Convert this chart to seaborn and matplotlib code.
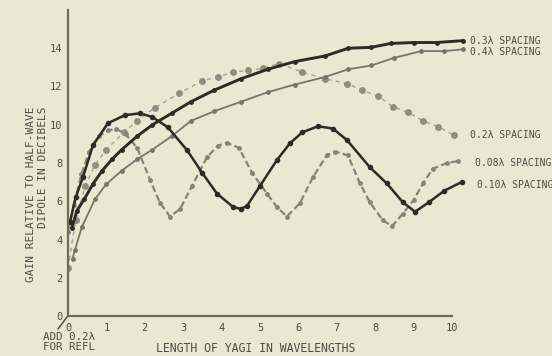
import matplotlib
matplotlib.use("Agg")
import matplotlib.pyplot as plt
from matplotlib.lines import Line2D
import seaborn as sns

# 0.3 lambda spacing (heavy solid)
x_03 = [0.1, 0.23, 0.42, 0.65, 0.89, 1.15, 1.4, 1.8, 2.2, 2.7, 3.2, 3.8, 4.5, 5.2, 5.9, 6.7, 7.3, 7.9, 8.4, 9.0, 9.6, 10.3]
y_03 = [4.6, 5.5, 6.1, 6.9, 7.6, 8.2, 8.7, 9.4, 10.0, 10.6, 11.2, 11.8, 12.4, 12.9, 13.3, 13.6, 14.0, 14.05, 14.25, 14.3, 14.3, 14.4]

# 0.4 lambda spacing (light solid)
x_04 = [0.12, 0.18, 0.36, 0.7, 1.0, 1.4, 1.8, 2.2, 2.7, 3.2, 3.8, 4.5, 5.2, 5.9, 6.7, 7.3, 7.9, 8.5, 9.2, 9.8, 10.3]
y_04 = [3.0, 3.45, 4.65, 6.1, 6.9, 7.6, 8.2, 8.7, 9.4, 10.2, 10.7, 11.2, 11.7, 12.1, 12.5, 12.9, 13.1, 13.5, 13.85, 13.85, 13.95]

# 0.2 lambda spacing (big dots)
x_02 = [0.0, 0.2, 0.45, 0.7, 1.0, 1.45, 1.8, 2.27, 2.9, 3.5, 3.9, 4.3, 4.7, 5.08, 5.5, 6.1, 6.7, 7.27, 7.66, 8.07, 8.46, 8.85, 9.25, 9.64, 10.05]
y_02 = [2.5, 5.0, 6.8, 7.9, 8.7, 9.6, 10.2, 10.9, 11.65, 12.3, 12.5, 12.75, 12.85, 12.95, 13.2, 12.75, 12.4, 12.15, 11.8, 11.5, 10.95, 10.65, 10.2, 9.9, 9.45]

# 0.10 lambda spacing (black oscillating)
x_01 = [0.05, 0.2, 0.39, 0.65, 1.04, 1.48, 1.88, 2.2, 2.6, 3.1, 3.49, 3.88, 4.3, 4.5, 4.66, 5.0, 5.44, 5.78, 6.1, 6.51, 6.9, 7.27, 7.86, 8.3, 8.72, 9.04, 9.4, 9.8, 10.25]
y_01 = [4.9, 6.2, 7.26, 8.93, 10.08, 10.5, 10.6, 10.4, 9.87, 8.67, 7.5, 6.4, 5.7, 5.6, 5.75, 6.8, 8.15, 9.03, 9.6, 9.92, 9.8, 9.19, 7.78, 6.94, 5.95, 5.45, 5.95, 6.55, 7.0]

# 0.08 lambda spacing (gray dashed oscillating)
x_008 = [0.0, 0.15, 0.35, 0.55, 0.8, 1.05, 1.25, 1.5, 1.8, 2.14, 2.4, 2.66, 2.92, 3.23, 3.62, 3.9, 4.14, 4.45, 4.79, 5.18, 5.44, 5.7, 6.04, 6.38, 6.74, 6.95, 7.29, 7.6, 7.86, 8.2, 8.44, 8.72, 9.0, 9.25, 9.5, 9.87, 10.15]
y_008 = [4.4, 5.8, 7.4, 8.6, 9.4, 9.7, 9.8, 9.5, 8.8, 7.1, 5.9, 5.2, 5.6, 6.8, 8.3, 8.9, 9.05, 8.8, 7.5, 6.4, 5.7, 5.2, 5.9, 7.26, 8.4, 8.6, 8.4, 6.95, 5.95, 5.0, 4.7, 5.35, 6.06, 6.95, 7.7, 8.0, 8.1]

series_labels = ["0.3λ SPACING", "0.4λ SPACING", "0.2λ SPACING", "0.08λ SPACING", "0.10λ SPACING"]
label_pos = [(10.47, 14.4), (10.47, 13.8), (10.47, 9.45), (10.6, 8.0), (10.65, 6.85)]

xticks = list(range(0, 11))
yticks = [0, 2, 4, 6, 8, 10, 12, 14, 16]
ytick_labels = ["0", "2", "4", "6", "8", "10", "12", "14", ""]

bg = "#ebe7d1"
ink = "#4e4d42"
axis_c = "#6f6c5c"

sns.set_style("white")
plt.rcParams["font.family"] = ["DejaVu Sans Mono", "DejaVu Sans"]

fig = plt.figure(figsize=(5.52, 3.56), dpi=100, facecolor=bg)
ax = fig.add_axes([68 / 552, 40 / 356, 407 / 552, 306 / 356])
ax.set_facecolor(bg)

sns.lineplot(x=x_02, y=y_02, ax=ax, color="#a3a293", lw=1.0, linestyle=(0, (3, 3)),
             marker="o", markersize=5, markerfacecolor="#8f8e80", markeredgewidth=0)
sns.lineplot(x=x_04, y=y_04, ax=ax, color="#77766a", lw=1.3,
             marker="o", markersize=3.5, markerfacecolor="#77766a", markeredgewidth=0)
sns.lineplot(x=x_008, y=y_008, ax=ax, color="#858477", lw=1.6, linestyle=(0, (3, 1.5)),
             marker="o", markersize=3.5, markerfacecolor="#858477", markeredgewidth=0)
sns.lineplot(x=x_03, y=y_03, ax=ax, color="#2c2b25", lw=2.1,
             marker="o", markersize=3.5, markerfacecolor="#2c2b25", markeredgewidth=0)
sns.lineplot(x=x_01, y=y_01, ax=ax, color="#2c2b25", lw=1.8,
             marker="o", markersize=4, markerfacecolor="#2c2b25", markeredgewidth=0)

for lab, (lx, ly) in zip(series_labels, label_pos):
    ax.text(lx, ly, lab, fontsize=7, color=ink, va="center", ha="left", clip_on=False)

ax.set_xlim(0, 10.6)
ax.set_ylim(0, 16)
ax.set_xticks(xticks)
ax.set_yticks(yticks)
ax.set_xticklabels([str(t) for t in xticks])
ax.set_yticklabels(ytick_labels)
ax.tick_params(axis="both", direction="in", length=4, width=1, color=axis_c,
               labelcolor=ink, labelsize=7.5)
ax.tick_params(axis="x", pad=5)
ax.tick_params(axis="y", pad=4)

for s in ["top", "right"]:
    ax.spines[s].set_visible(False)
for s in ["left", "bottom"]:
    ax.spines[s].set_color(axis_c)
    ax.spines[s].set_linewidth(1.6)
ax.spines["bottom"].set_bounds(0, 10)
ax.spines["left"].set_bounds(0, 16)

fig.text(37 / 552, 1 - 194 / 356, "GAIN RELATIVE TO HALF-WAVE\nDIPOLE IN DECIBELS",
         rotation=90, ha="center", va="center", multialignment="right",
         fontsize=8, color=ink, linespacing=1.15)
ax.set_xlabel("")
ax.set_ylabel("")
fig.text(256 / 552, 1 - 349 / 356, "LENGTH OF YAGI IN WAVELENGTHS",
         ha="center", va="center", fontsize=8.3, color=ink)

fig.text(43 / 552, 1 - 342 / 356, "ADD 0.2λ\nFOR REFL", ha="left", va="center",
         fontsize=7.8, color=ink, linespacing=1.05)
# small slash pointing from the note to the origin
fig.add_artist(Line2D([58 / 552, 67 / 552], [1 - 329 / 356, 1 - 317 / 356],
                      color=ink, lw=1.1))

fig.savefig("out.png", dpi=100, facecolor=bg)
